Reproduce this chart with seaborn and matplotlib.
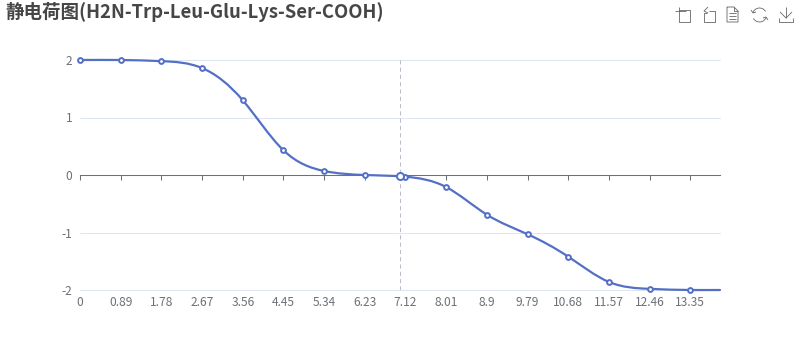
import numpy as np
import pandas as pd
import matplotlib
matplotlib.use("Agg")
import matplotlib.pyplot as plt
from matplotlib.path import Path
from matplotlib.patches import PathPatch, Arc
import seaborn as sns

TITLE = "静电荷图(H2N-Trp-Leu-Glu-Lys-Ser-COOH)"
ph = [0, 0.89, 1.78, 2.67, 3.56, 4.45, 5.34, 6.23, 7.12, 8.01, 8.9, 9.79, 10.68, 11.57, 12.46, 13.35]
charge = [2.0, 2.0, 1.98, 1.86, 1.3, 0.43, 0.07, 0.0, -0.03, -0.21, -0.69, -1.03, -1.42, -1.86, -1.98, -2.0]
end_ph = 14.0
end_charge = -2.0
hover_ph = 7.0
hover_charge = -0.02
tick_labels = ["0", "0.89", "1.78", "2.67", "3.56", "4.45", "5.34", "6.23", "7.12", "8.01", "8.9", "9.79", "10.68", "11.57", "12.46", "13.35"]
y_ticks = [-2, -1, 0, 1, 2]
y_labels = ["-2", "-1", "0", "1", "2"]

BLUE = "#5470C6"
AXIS = "#6E7079"
GRID = "#E0E6F1"
FONT = ["Noto Sans CJK SC", "DejaVu Sans"]

sns.set_theme(style="white")
plt.rcParams["font.family"] = FONT

fig = plt.figure(figsize=(8, 3.6), dpi=100, facecolor="white")
ax = fig.add_axes([80 / 800, 1 - 290 / 360, 640 / 800, 230 / 360])
ax.set_xlim(0, 14)
ax.set_ylim(-2, 2)
ax.set_facecolor("none")

for v in y_ticks:
    if v != 0:
        ax.axhline(v, color=GRID, lw=0.75, zorder=1, clip_on=False)

for s in ["top", "right", "left"]:
    ax.spines[s].set_visible(False)
ax.spines["bottom"].set_position(("data", 0))
ax.spines["bottom"].set_color(AXIS)
ax.spines["bottom"].set_linewidth(0.75)

ax.set_xticks(ph)
ax.set_xticklabels(tick_labels)
ax.set_yticks(y_ticks)
ax.set_yticklabels(y_labels)
ax.tick_params(axis="x", bottom=True, direction="out", length=3.6, width=0.75, color=AXIS,
               labelcolor=AXIS, labelsize=8.64, pad=83.5)
ax.tick_params(axis="y", left=False, length=0, labelcolor=AXIS, labelsize=8.64, pad=5.5)

ax.axvline(hover_ph, color="#B9BEC9", lw=0.75, ls=(0, (4, 3)), zorder=2)

# smooth line: C2 cubic through the read points, drawn as Bezier segments
xs = np.array(ph + [end_ph], dtype=float)
ys = np.array(charge + [end_charge], dtype=float)
h = np.diff(xs)
n = len(xs)
A = np.zeros((n, n))
b = np.zeros(n)
A[0, 0] = A[-1, -1] = 1.0
for i in range(1, n - 1):
    A[i, i - 1] = h[i]
    A[i, i] = 2 * (h[i] + h[i - 1])
    A[i, i + 1] = h[i - 1]
    b[i] = 3 * (h[i] * (ys[i] - ys[i - 1]) / h[i - 1] + h[i - 1] * (ys[i + 1] - ys[i]) / h[i])
slope = np.linalg.solve(A, b)
verts = [(xs[0], ys[0])]
codes = [Path.MOVETO]
for i in range(n - 1):
    d = h[i] / 3
    verts += [(xs[i] + d, ys[i] + slope[i] * d),
              (xs[i + 1] - d, ys[i + 1] - slope[i + 1] * d),
              (xs[i + 1], ys[i + 1])]
    codes += [Path.CURVE4] * 3
ax.add_patch(PathPatch(Path(verts, codes), fc="none", ec=BLUE, lw=1.6, zorder=3,
                       capstyle="round", clip_on=False))

df = pd.DataFrame({"ph": ph, "charge": charge})
sns.scatterplot(data=df, x="ph", y="charge", ax=ax, s=12, marker="o", color="white",
                edgecolor=BLUE, linewidth=1.4, zorder=4, clip_on=False)
hover = pd.DataFrame({"ph": [hover_ph], "charge": [hover_charge]})
sns.scatterplot(data=hover, x="ph", y="charge", ax=ax, s=26, marker="o", color="white",
                edgecolor=BLUE, linewidth=1.4, zorder=5, clip_on=False)
ax.set_xlabel("")
ax.set_ylabel("")

fig.text(5 / 800, 1 - 12 / 360, TITLE, fontsize=13.3, fontweight="bold", color="#464646",
         ha="left", va="center", family=FONT)

# toolbox icons
ov = fig.add_axes([0, 0, 1, 1], facecolor="none")
ov.set_xlim(0, 800)
ov.set_ylim(360, 0)
ov.axis("off")
ic = dict(color="#666666", lw=0.6, solid_capstyle="butt")
# crop
ov.plot([679, 690, 690, 679, 679], [10, 10, 22, 22, 7], **ic)
ov.plot([675, 686], [11, 11], **ic)
# restore
ov.plot([709, 715, 715, 704, 704, 707], [11, 11, 22, 22, 13, 13], **ic)
ov.plot([708, 704, 708], [7, 11, 13], **ic)
# data view
ov.plot([727, 734, 738, 738, 727, 727], [7, 7, 11, 22, 22, 7], **ic)
ov.plot([734, 734, 738], [7, 11, 11], **ic)
for y in [13, 16, 19]:
    ov.plot([729, 736], [y, y], **ic)
# refresh
ov.add_patch(Arc((759.5, 15), 14, 14, theta1=200, theta2=330, color="#666666", lw=0.6))
ov.add_patch(Arc((759.5, 15), 14, 14, theta1=20, theta2=150, color="#666666", lw=0.6))
ov.plot([751, 753, 756], [10, 13, 12], **ic)
ov.plot([768, 766, 763], [20, 17, 18], **ic)
# save
ov.plot([786, 786], [7, 18], **ic)
ov.plot([780, 786, 792], [12, 18, 12], **ic)
ov.plot([779, 779, 793, 793], [18, 22, 22, 18], **ic)

fig.savefig("out.png", dpi=100, facecolor="white")
